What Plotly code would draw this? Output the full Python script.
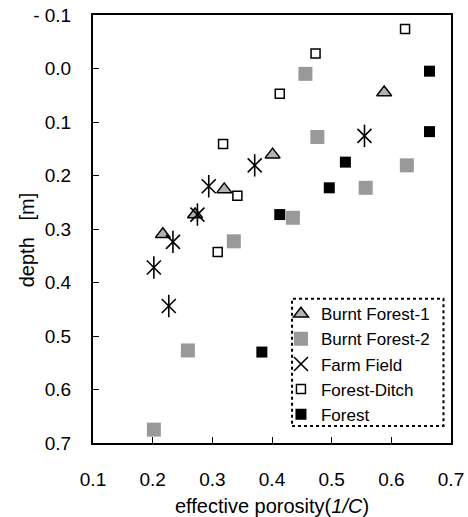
import plotly.graph_objects as go

# Burnt Forest-1 (triangles)
bf1_x = [0.588, 0.401, 0.320, 0.271, 0.217]
bf1_y = [0.045, 0.161, 0.226, 0.273, 0.310]
# Burnt Forest-2 (gray squares)
bf2_x = [0.456, 0.476, 0.626, 0.557, 0.435, 0.336, 0.259, 0.202]
bf2_y = [0.010, 0.128, 0.181, 0.223, 0.279, 0.323, 0.527, 0.675]
# Farm Field (asterisks)
ff_x = [0.555, 0.371, 0.294, 0.275, 0.234, 0.202, 0.227]
ff_y = [0.126, 0.181, 0.220, 0.273, 0.324, 0.372, 0.444]
# Forest-Ditch (open squares)
fd_x = [0.623, 0.473, 0.413, 0.318, 0.342, 0.309]
fd_y = [-0.074, -0.028, 0.047, 0.141, 0.238, 0.343]
# Forest (black squares)
fo_x = [0.664, 0.664, 0.523, 0.496, 0.413, 0.383]
fo_y = [0.005, 0.118, 0.175, 0.223, 0.273, 0.530]

x_ticks = [0.1, 0.2, 0.3, 0.4, 0.5, 0.6, 0.7]
x_ticktext = ["0.1", "0.2", "0.3", "0.4", "0.5", "0.6", "0.7"]
y_ticks = [-0.1, 0.0, 0.1, 0.2, 0.3, 0.4, 0.5, 0.6, 0.7]
y_ticktext = ["- 0.1", "0.0", "0.1", "0.2", "0.3", "0.4", "0.5", "0.6", "0.7"]

FONT = "Arial, Liberation Sans, sans-serif"

fig = go.Figure()
fig.add_trace(go.Scatter(x=bf1_x, y=bf1_y, mode="markers", name="Burnt Forest-1",
                         marker=dict(symbol="triangle-up", size=13, color="#b3b3b3",
                                     line=dict(color="black", width=1.5))))
fig.add_trace(go.Scatter(x=bf2_x, y=bf2_y, mode="markers", name="Burnt Forest-2",
                         marker=dict(symbol="square", size=14, color="#999999",
                                     line=dict(width=0))))
fig.add_trace(go.Scatter(x=ff_x, y=ff_y, mode="markers", name="Farm Field",
                         marker=dict(symbol="x-thin-open", size=14, color="black",
                                     line=dict(color="black", width=1.6))))
fig.add_trace(go.Scatter(x=ff_x, y=ff_y, mode="markers", name="Farm Field",
                         showlegend=False,
                         marker=dict(symbol="line-ns-open", size=16, color="black",
                                     line=dict(color="black", width=1.6))))
fig.add_trace(go.Scatter(x=fd_x, y=fd_y, mode="markers", name="Forest-Ditch",
                         marker=dict(symbol="square", size=9, color="white",
                                     line=dict(color="black", width=1.5))))
fig.add_trace(go.Scatter(x=fo_x, y=fo_y, mode="markers", name="Forest",
                         marker=dict(symbol="square", size=11, color="black",
                                     line=dict(width=0))))

fig.update_layout(
    width=468, height=517,
    margin=dict(l=93, r=17, t=15, b=74),
    paper_bgcolor="white", plot_bgcolor="white",
    font=dict(family=FONT, size=17, color="black"),
    showlegend=True,
    legend=dict(x=0.525, y=0.343, xanchor="left", yanchor="top",
                bgcolor="rgba(0,0,0,0)", borderwidth=0,
                font=dict(family=FONT, size=17, color="black"),
                tracegroupgap=0),
    shapes=[dict(type="rect", xref="paper", yref="paper",
                 x0=0.556, x1=0.979, y0=0.040, y1=0.337,
                 line=dict(color="black", width=2, dash="dot"))],
    annotations=[dict(text="depth   [m]", textangle=-90, xref="paper", yref="paper",
                      x=-0.184, y=0.474, xanchor="center", yanchor="middle",
                      showarrow=False, font=dict(family=FONT, size=20, color="black"))],
)
fig.update_xaxes(range=[0.1, 0.7], tickvals=x_ticks, ticktext=x_ticktext,
                 automargin=False,
                 showgrid=False, zeroline=False, showline=True, linecolor="black",
                 linewidth=2, mirror=True, ticks="inside", ticklen=6,
                 tickcolor="black", tickwidth=1, ticklabelstandoff=18,
                 tickfont=dict(size=19),
                 title=dict(text="effective porosity(<i>1/C</i>)", font=dict(size=20),
                            standoff=10))
fig.update_yaxes(range=[0.7, -0.1], tickvals=y_ticks, ticktext=y_ticktext,
                 automargin=False,
                 showgrid=False, zeroline=False, showline=True, linecolor="black",
                 linewidth=2, mirror=True, ticks="inside", ticklen=6,
                 tickcolor="black", tickwidth=1, ticklabelstandoff=16,
                 tickfont=dict(size=19))

fig.write_html("out.html", config={"displayModeBar": False},
               post_script="document.body.style.margin='0';")
